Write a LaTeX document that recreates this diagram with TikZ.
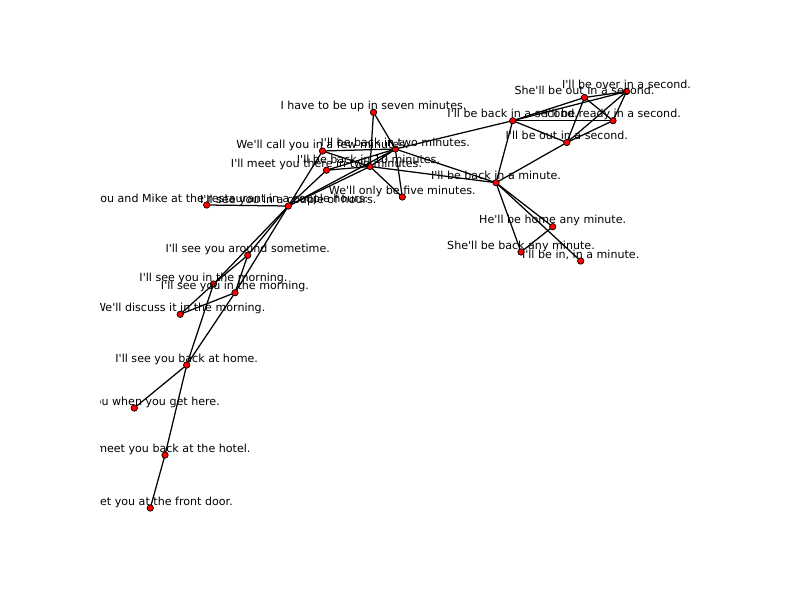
\documentclass[tikz,border=0pt]{standalone}
\usepackage{fontspec}
\setmainfont{DejaVu Sans}[Ligatures=TeXOff]
\pgfdeclarelayer{bg}
\pgfdeclarelayer{edges}
\pgfsetlayers{bg,edges,main}
\begin{document}
\begin{tikzpicture}[x=1pt,y=-1pt,
  edge/.style={line width=1.25pt, black},
  vert/.style={circle, fill=red, draw=black, line width=0.7pt, inner sep=0pt, minimum size=6.4pt},
  lab/.style={font=\fontsize{11.1}{13}\selectfont, inner sep=0pt, anchor=base, text=black},
  labr/.style={lab, anchor=base east}]
\begin{pgfonlayer}{bg}
\fill[white] (0,0) rectangle (800,600);
\end{pgfonlayer}
\useasboundingbox (0,0) rectangle (800,600);
% vertices
\node[vert] (A) at (373.5,112.3) {};
\node[vert] (B) at (395.3,149.0) {};
\node[vert] (C) at (322.5,151.0) {};
\node[vert] (D) at (326.5,170.2) {};
\node[vert] (E) at (370.0,166.5) {};
\node[vert] (F) at (402.3,197.0) {};
\node[vert] (G) at (288.3,206.0) {};
\node[vert] (H) at (206.7,205.0) {};
\node[vert] (U) at (247.7,255.3) {};
\node[vert] (V) at (213.5,284.0) {};
\node[vert] (W) at (235.0,292.7) {};
\node[vert] (X) at (180.2,314.3) {};
\node[vert] (Y) at (186.7,365.0) {};
\node[vert] (Z) at (134.3,408.0) {};
\node[vert] (K) at (165.0,455.0) {};
\node[vert] (L) at (150.3,508.0) {};
\node[vert] (P) at (626.5,91.5) {};
\node[vert] (Q) at (584.5,97.5) {};
\node[vert] (R) at (512.7,120.7) {};
\node[vert] (S) at (613.0,120.7) {};
\node[vert] (T) at (566.8,142.5) {};
\node[vert] (M) at (496.0,182.7) {};
\node[vert] (N1) at (552.7,226.7) {};
\node[vert] (N2) at (521.0,252.0) {};
\node[vert] (N3) at (580.7,261.0) {};
% edges
\begin{pgfonlayer}{edges}
\foreach \a/\b in {A/B, A/E, B/C, B/D, B/E, B/F, B/G, B/R, B/M, C/E, C/G, D/E, D/G, E/G, E/F, E/M,
  G/H, G/U, G/V, G/W, U/V, U/W, V/X, X/W, V/Y, W/Y, Y/Z, Y/K, K/L,
  R/P, R/Q, R/S, R/T, R/M, Q/P, Q/S, Q/T, P/S, P/T, S/T, T/M, M/N1, M/N2, M/N3, N1/N2}
  \draw[edge] (\a.center) -- (\b.center);
\end{pgfonlayer}
% labels
\begin{scope}
\clip (100,72) rectangle (720,534);
\node[lab] (lA) at (373.5,109.3) {I have to be up in seven minutes.};
\node[lab] (lB) at (395.3,146.0) {I'll be back in two minutes.};
\node[lab] (lC) at (322.5,148.0) {We'll call you in a few minutes.};
\node[lab] (lD) at (326.5,167.2) {I'll meet you there in two minutes.};
\node[lab] (lE) at (368.5,163.5) {I'll be back in 10 minutes.};
\node[lab] (lF) at (402.3,194.0) {We'll only be five minutes.};
\node[lab] (lG) at (288.3,203.0) {I'll see you in a couple of hours.};
\node[labr] (lH) at (368.3,202.0) {you and Mike at the restaurant in a couple hours.};
\node[lab] (lU) at (247.7,252.3) {I'll see you around sometime.};
\node[lab] (lV) at (213.5,281.0) {I'll see you in the morning.};
\node[lab] (lW) at (235.0,289.7) {I'll see you in the morning.};
\node[lab] (lX) at (180.2,311.3) {We'll discuss it in the morning.};
\node[lab] (lY) at (186.7,362.0) {I'll see you back at home.};
\node[labr] (lZ) at (220.0,405.0) {ou when you get here.};
\node[labr] (lK) at (250.7,452.0) {meet you back at the hotel.};
\node[labr] (lL) at (233.0,505.0) {et you at the front door.};
\node[lab] (lP) at (626.5,88.5) {I'll be over in a second.};
\node[lab] (lQ) at (584.5,94.5) {She'll be out in a second.};
\node[lab] (lR) at (512.7,117.7) {I'll be back in a second.};
\node[lab] (lS) at (613.0,117.7) {I'll be ready in a second.};
\node[lab] (lT) at (566.8,139.5) {I'll be out in a second.};
\node[lab] (lM) at (496.0,179.7) {I'll be back in a minute.};
\node[lab] (lN1) at (552.7,223.7) {He'll be home any minute.};
\node[lab] (lN2) at (521.0,249.0) {She'll be back any minute.};
\node[lab] (lN3) at (580.7,258.0) {I'll be in, in a minute.};
\end{scope}
\end{tikzpicture}
\end{document}
